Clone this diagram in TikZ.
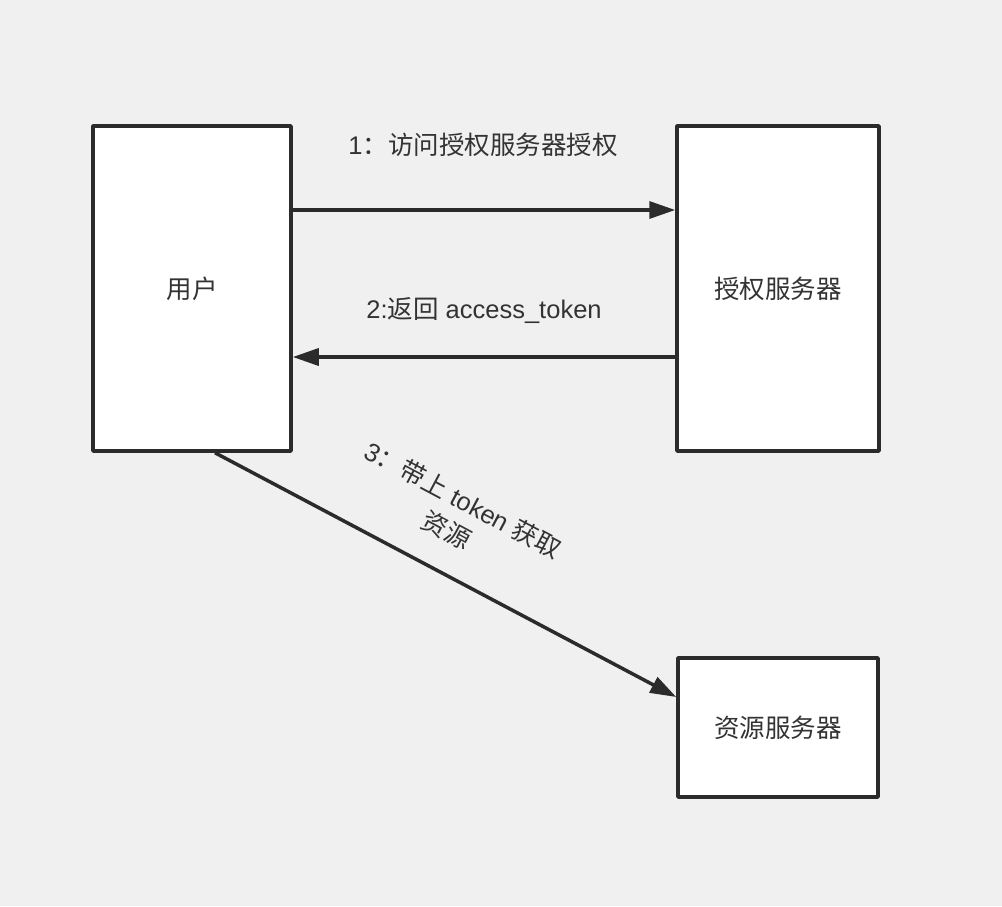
\documentclass[tikz,border=0pt]{standalone}
\usepackage{fontspec}
\setmainfont{Liberation Sans}
\newfontfamily\cjk{Noto Sans CJK SC}
\usetikzlibrary{arrows.meta}
\definecolor{bgc}{HTML}{F0F0F0}
\definecolor{linec}{HTML}{2B2B2B}
\definecolor{textc}{HTML}{333333}
\tikzset{
  boxnode/.style={draw=linec, fill=white, line width=3.5pt, line join=round, rectangle, inner sep=0pt, text=textc, font=\cjk\fontsize{25.5}{30}\selectfont},
  arr/.style={draw=linec, line width=3.5pt, -{Triangle[length=26pt,width=17pt]}},
  lbl/.style={text=textc, font=\fontsize{25.5}{34}\selectfont, inner sep=0pt, align=center}
}
\begin{document}
\begin{tikzpicture}[x=1pt,y=-1pt]
\fill[bgc] (0,0) rectangle (1002,906);
\useasboundingbox (0,0) rectangle (1002,906);
\node[boxnode, minimum width=198pt, minimum height=325pt] (user) at (192,288.5) {用户};
\node[boxnode, minimum width=202pt, minimum height=325pt] (auth) at (778,288.5) {授权服务器};
\node[boxnode, minimum width=200pt, minimum height=139pt] (res) at (778,727.5) {资源服务器};
\draw[arr] ([yshift=78.5pt]user.east) -- ([yshift=78.5pt]auth.west);
\draw[arr] ([yshift=-68.5pt]auth.west) -- ([yshift=-68.5pt]user.east);
\draw[arr] ([xshift=23pt]user.south) -- ([yshift=30.5pt]res.west);
\node[lbl] (l1) at (483,145) {1{\cjk ：访问授权服务器授权}};
\node[lbl] (l2) at (484,311) {2:{\cjk 返回} access\_token};
\node[lbl, rotate=-28] (l3) at (455,515) {3{\cjk ：带上} token {\cjk 获取}\\{\cjk 资源}};
\end{tikzpicture}
\end{document}
